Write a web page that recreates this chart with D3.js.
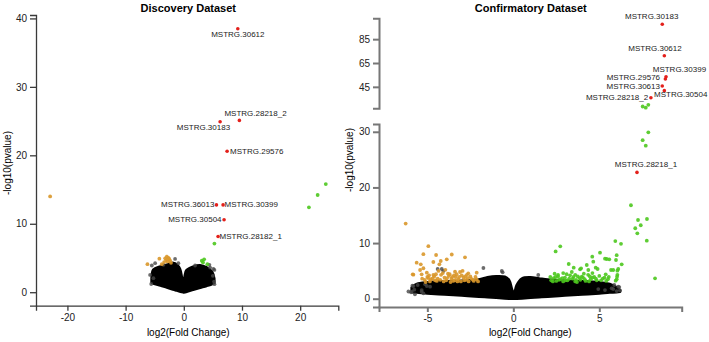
<!DOCTYPE html>
<html>
<head>
<meta charset="utf-8">
<script src="https://cdn.jsdelivr.net/npm/d3@7"></script>
<style>
  body { margin: 0; background: #fff; }
  svg { font-family: "Liberation Sans", Arial, Helvetica, sans-serif; }
  .axis text { font-size: 10px; fill: #222; }
  .disc .axis path, .disc .axis line { stroke: #3a3a3a; stroke-width: 1.3; }
  .conf .axis path, .conf .axis line { stroke: #777; stroke-width: 2; }
  .lbl { font-size: 8px; fill: #222; }
</style>
</head>
<body>
<svg id="chart" width="709" height="342"></svg>
<script>
// ---------------- Discovery dataset ----------------
var discNames = ["MSTRG.30612", "MSTRG.28218_2", "MSTRG.30183", "MSTRG.29576",
                 "MSTRG.36013", "MSTRG.30399", "MSTRG.30504", "MSTRG.28182_1"];
var discSigFC = [9.28, 9.55, 6.24, 7.44, 5.61, 6.75, 6.92, 5.89];
var discSigP  = [38.5, 25.1, 24.9, 20.6, 12.76, 12.76, 10.59, 8.14];

var discUpFC = [24.4, 23.0, 21.5, 5.26, 3.09, 3.49, 4.05, 3.3];
var discUpP  = [15.8, 14.2, 12.4, 7.1, 4.6, 4.8, 4.1, 4.35];

var discDownFC = [-22.97, -6.25, -4.2, -2.92, -2.64, -3.04, -2.35, -3.38, -3.78, -2.8, -2.5, -3.2, -2.2];
var discDownP  = [14.0, 4.1, 4.9, 5.2, 5.0, 4.7, 4.6, 4.4, 4.1, 4.5, 4.85, 4.95, 4.3];

var discNsFC = [-4.93, -5.5, -3.5, -1.5, -0.93, 1.94, 4.52, 5.09, 4.4, -5.79, -5.22, 5.2, 5.26, 5.26, -5.6, 5.0];
var discNsP  = [4.24, 3.9, 4.0, 4.87, 4.24, 3.9, 3.6, 3.4, 4.0, 2.53, 2.05, 1.55, 3.26, 1.17, 1.2, 2.4];

// outline of the dense non-significant cloud
var discCloudFC = [-5.5, -5.2, -4.0, -2.9, -1.8, -1.2, -0.7, -0.35, -0.05, 0.2, 0.5, 1.6, 2.8, 3.9, 4.8, 5.2];
var discCloudHi = [2.0, 3.3, 3.75, 4.0, 4.25, 4.0, 3.4, 2.1, 1.0, 2.4, 3.2, 3.7, 3.9, 3.6, 3.0, 2.0];
var discCloudLo = [1.45, 1.3, 1.0, 0.7, 0.42, 0.27, 0.15, 0.07, 0.0, 0.04, 0.1, 0.38, 0.68, 0.95, 1.2, 1.35];

var discXTicks = [-20, -10, 0, 10, 20];
var discYTicks = [0, 10, 20, 30, 40];

// ---------------- Confirmatory dataset ----------------
var confNames = ["MSTRG.30183", "MSTRG.30612", "MSTRG.30399", "MSTRG.29576",
                 "MSTRG.30613", "MSTRG.30504", "MSTRG.28218_2", "MSTRG.28218_1"];
var confSigFC = [8.66, 8.78, 8.88, 8.84, 8.66, 8.78, 8.0, 7.19];
var confSigP  = [97.5, 71.1, 53.5, 51.6, 45.7, 41.8, 35.9, 22.7];

var confUpFC = [7.85, 7.52, 7.7, 6.84, 7.25, 7.77, 7.41, 7.09, 7.21, 7.76, 8.24,
                2.46, 2.73, 3.22, 3.88, 4.59, 5.04, 5.43, 5.58, 5.93, 6.26, 6.01, 4.65, 6.3,
                4.27, 5.68, 6.05, 6.05, 6.01, 5.97, 3.51, 3.94, 4.9, 4.36, 4.79, 5.81, 6.1,
                3.98, 6.03, 5.37, 5.95, 5.33,
                2.2, 2.35, 2.5, 2.6, 2.75, 2.9, 3.0, 3.15, 3.3, 3.45, 3.6, 3.75, 3.9, 4.05,
                4.2, 4.35, 4.5, 4.7, 4.85, 5.0, 5.2, 5.4, 5.55, 2.4, 2.9, 3.4, 4.1, 4.6, 2.15, 3.7,
                2.3, 2.45, 2.65, 2.85, 3.05, 3.25, 3.5, 3.65, 3.85, 4.15, 4.4, 4.6, 4.8, 5.1,
                5.3, 5.5, 2.6, 3.1, 3.6, 4.45];
var confUpP  = [29.9, 28.5, 27.5, 16.8, 14.15, 14.33, 13.2, 12.66, 11.76, 10.43, 3.67,
                8.5, 9.42, 6.24, 5.28, 7.55, 8.28, 7.14, 7.08, 10.35, 9.87, 7.83, 6.66, 6.18,
                6.06, 5.16, 5.04, 4.3, 3.48, 6.96, 5.58, 5.46, 5.34, 5.16, 5.58, 5.16, 5.34,
                3.96, 3.96, 4.39, 3.24, 7.19,
                3.3, 3.7, 3.2, 4.0, 3.5, 3.1, 3.8, 3.3, 4.2, 3.6, 3.1, 4.0, 3.4, 3.8,
                3.2, 4.3, 3.5, 3.9, 3.3, 4.1, 3.6, 3.2, 3.9, 4.5, 4.6, 4.8, 4.5, 4.6, 3.9, 3.0,
                3.1, 3.9, 3.4, 3.7, 3.3, 3.6, 3.9, 3.4, 3.7, 3.5, 3.1, 3.8, 3.6, 3.3,
                3.8, 3.5, 4.3, 4.4, 4.3, 4.0];

var confDownFC = [-6.26, -4.94, -5.23, -4.49, -3.58, -2.81, -3.87, -4.22, -4.65, -5.62, -5.38, -4.3,
                  -5.42, -5.85, -5.03, -3.39, -2.62, -2.13, -5.33, -4.65, -5.23, -5.81,
                  -5.0, -4.8, -4.6, -4.4, -4.2, -4.0, -3.9, -3.75, -3.6, -3.5, -3.35, -3.2,
                  -3.05, -2.9, -2.75, -2.6, -2.45, -2.3, -2.15, -2.05, -3.8, -4.1, -3.0, -4.45,
                  -3.3, -2.8, -5.15, -4.9, -3.65, -2.5, -5.3, -3.1, -4.35, -3.95, -2.95,
                  -4.85, -4.7, -4.55, -4.25, -4.05, -3.85, -3.55, -3.4, -3.15, -2.85, -2.65,
                  -2.35, -2.2, -3.7, -4.5, -3.45, -2.7, -5.1, -4.95, -3.25];
var confDownP  = [13.5, 9.45, 8.0, 7.86, 7.95, 7.44, 7.08, 6.78, 6.6, 6.47, 6.18, 6.18,
                  5.16, 4.39, 4.68, 4.86, 4.57, 4.68, 4.39, 4.26, 5.47, 4.32,
                  3.9, 3.5, 4.0, 3.6, 4.3, 3.8, 3.3, 4.1, 3.6, 3.2, 3.9, 3.5,
                  3.1, 3.8, 3.4, 3.1, 3.6, 3.2, 3.5, 3.1, 4.5, 4.6, 4.2, 3.2,
                  4.4, 4.0, 3.4, 4.2, 3.0, 4.0, 3.6, 4.8, 5.0, 5.2, 5.0,
                  3.1, 3.6, 3.3, 3.4, 3.1, 3.7, 3.9, 3.3, 3.9, 3.3, 3.7,
                  3.4, 3.9, 4.4, 4.4, 4.2, 4.3, 3.0, 3.7, 3.1];

var confNsFC = [-5.87, -5.76, -5.56, -5.33, -5.95, -5.13, -4.84, -4.4, -4.16, -4.07, -5.72, -5.23,
                -5.81, -5.9, -5.33, -5.03, -1.74, -0.67, -0.62, 1.45,
                4.94, 5.33, 5.81, 6.01, 6.1, 5.87, 5.72, 6.16, 6.2, -6.1];
var confNsP  = [2.34, 1.62, 2.46, 1.56, 1.15, 2.59, 2.16, 5.34, 5.34, 4.98, 0.79, 0.97,
                2.28, 1.26, 1.26, 2.28, 5.52, 4.98, 4.75, 4.26,
                1.74, 1.56, 1.74, 1.38, 2.16, 2.46, 1.87, 2.1, 1.5, 1.3];

var confCloudFC = [-5.9, -5.6, -5.0, -4.0, -3.0, -2.0, -1.5, -1.0, -0.5, -0.25, -0.08, 0.05, 0.2,
                   0.5, 1.0, 1.5, 2.0, 3.0, 4.0, 5.0, 5.6, 6.0, 6.2];
var confCloudHi = [2.0, 2.6, 2.9, 3.1, 3.2, 3.4, 3.8, 4.0, 3.9, 3.3, 1.6, 0.8, 2.4,
                   3.6, 3.8, 3.6, 3.4, 3.2, 3.1, 2.9, 2.6, 2.0, 1.5];
var confCloudLo = [1.2, 1.15, 1.0, 0.8, 0.6, 0.4, 0.3, 0.2, 0.1, 0.05, 0.02, 0.02, 0.05,
                   0.1, 0.2, 0.3, 0.4, 0.6, 0.8, 1.0, 1.15, 1.2, 1.3];

var confXTicks = [-5, 0, 5];
var confYTicksLow = [0, 10, 20, 30];
var confYTicksHigh = [45, 65, 85];

// label placement: [anchor, dx, dy] in pixels from the point
var discLabelPos = [["middle", 0, 8.3], ["start", -15, -4.6], ["end", 10, 8.3], ["start", 3, 2.5],
                    ["end", -2, 2.5], ["start", 1.5, 2.5], ["end", -2.5, 2.5], ["start", 1.5, 2.5]];
var confLabelPos = [["middle", -10.6, -5.3], ["middle", -9.3, -5], ["start", -13.3, -5], ["end", -5.3, 1.2],
                    ["end", -2.3, 2.6], ["start", -10.3, 6.6], ["end", -2.7, 2.3], ["middle", 9, -5.4]];

var RED = "#e3201b", GREEN = "#4cc81e", ORANGE = "#d9972a", GREY = "#474747";

function zip(xs, ys) {
  return xs.map(function(x, i) { return {x: x, y: ys[i]}; });
}

var svg = d3.select("#chart");

// draws a set of points into one y-segment, skipping those outside it
function dots(g, x, y, data, color, r, op) {
  var dom = y.domain();
  g.selectAll(null)
    .data(data.filter(function(d) { return d.y >= dom[0] && d.y <= dom[1]; }))
    .enter().append("circle")
      .attr("cx", function(d) { return x(d.x); })
      .attr("cy", function(d) { return y(d.y); })
      .attr("r", r)
      .attr("fill", color)
      .attr("fill-opacity", op);
}

function cloud(g, x, y, xs, hi, lo) {
  var area = d3.area()
      .x(function(d) { return x(d.x); })
      .y0(function(d) { return y(d.lo); })
      .y1(function(d) { return y(d.hi); })
      .curve(d3.curveCatmullRom);
  g.append("path")
    .datum(xs.map(function(v, i) { return {x: v, hi: hi[i], lo: lo[i]}; }))
    .attr("d", area)
    .attr("fill", "#000")
    .attr("stroke", "#000")
    .attr("stroke-width", 3)
    .attr("stroke-linejoin", "round");
}

function labels(g, x, y, names, fc, p, pos) {
  g.selectAll(null)
    .data(names)
    .enter().append("text")
      .attr("class", "lbl")
      .attr("x", function(d, i) { return x(fc[i]) + pos[i][1]; })
      .attr("y", function(d, i) { return y(p[i]) + pos[i][2]; })
      .attr("text-anchor", function(d, i) { return pos[i][0]; })
      .text(function(d) { return d; });
}

function hyphen(d) { return String(d); }

// ---------------- left panel ----------------
var gL = svg.append("g").attr("class", "disc");
var xL = d3.scaleLinear().domain([-25.4, 26.55]).range([36, 338.3]);
var yL = d3.scaleLinear().domain([-1.97, 40.5]).range([305.7, 15]);

gL.append("g").attr("class", "axis")
  .attr("transform", "translate(0,305.7)")
  .call(d3.axisBottom(xL).tickValues(discXTicks).tickFormat(hyphen).tickSizeOuter(0).tickSize(5));
gL.append("g").attr("class", "axis")
  .attr("transform", "translate(36,0)")
  .call(d3.axisLeft(yL).tickValues(discYTicks).tickFormat(hyphen).tickSizeOuter(0).tickSize(6));

cloud(gL, xL, yL, discCloudFC, discCloudHi, discCloudLo);
dots(gL, xL, yL, zip(discNsFC, discNsP), GREY, 1.9, 0.8);
dots(gL, xL, yL, zip(discDownFC, discDownP), ORANGE, 1.9, 0.9);
dots(gL, xL, yL, zip(discUpFC, discUpP), GREEN, 1.9, 0.9);
dots(gL, xL, yL, zip(discSigFC, discSigP), RED, 1.8, 1);
labels(gL, xL, yL, discNames, discSigFC, discSigP, discLabelPos);

gL.append("text").attr("x", 188.3).attr("y", 12).attr("text-anchor", "middle")
  .style("font-size", "11px").style("font-weight", "bold").text("Discovery Dataset");
gL.append("text").attr("x", 188.3).attr("y", 336).attr("text-anchor", "middle")
  .style("font-size", "10px").text("log2(Fold Change)");
gL.append("text").attr("transform", "translate(11,163) rotate(-90)").attr("text-anchor", "middle")
  .style("font-size", "10px").text("-log10(pvalue)");

// ---------------- right panel (broken y axis) ----------------
var gR = svg.append("g").attr("class", "conf");
var xR = d3.scaleLinear().domain([-7.81, 9.79]).range([379, 681.7]);
var yLow = d3.scaleLinear().domain([-1.49, 31.4]).range([307, 124]);
var yHigh = d3.scaleLinear().domain([27, 102.5]).range([108.3, 18.3]);

gR.append("g").attr("class", "axis")
  .attr("transform", "translate(0,307)")
  .call(d3.axisBottom(xR).tickValues(confXTicks).tickFormat(hyphen).tickSizeOuter(0).tickSize(5));
gR.append("g").attr("class", "axis")
  .attr("transform", "translate(379,0)")
  .call(d3.axisLeft(yLow).tickValues(confYTicksLow).tickFormat(hyphen).tickSizeOuter(0).tickSize(6));
gR.append("g").attr("class", "axis")
  .attr("transform", "translate(379,0)")
  .call(d3.axisLeft(yHigh).tickValues(confYTicksHigh).tickFormat(hyphen).tickSizeOuter(0).tickSize(6));

cloud(gR, xR, yLow, confCloudFC, confCloudHi, confCloudLo);
[yLow, yHigh].forEach(function(y) {
  dots(gR, xR, y, zip(confNsFC, confNsP), GREY, 1.9, 0.8);
  dots(gR, xR, y, zip(confDownFC, confDownP), ORANGE, 1.9, 0.9);
  dots(gR, xR, y, zip(confUpFC, confUpP), GREEN, 1.9, 0.9);
  dots(gR, xR, y, zip(confSigFC, confSigP), RED, 1.8, 1);
});
labels(gR, xR, yHigh, confNames.slice(0, 7), confSigFC, confSigP, confLabelPos);
labels(gR, xR, yLow, confNames.slice(7), confSigFC.slice(7), confSigP.slice(7), confLabelPos.slice(7));

gR.append("text").attr("x", 530.8).attr("y", 12).attr("text-anchor", "middle")
  .style("font-size", "11px").style("font-weight", "bold").text("Confirmatory Dataset");
gR.append("text").attr("x", 530.3).attr("y", 336).attr("text-anchor", "middle")
  .style("font-size", "10px").text("log2(Fold Change)");
gR.append("text").attr("transform", "translate(353,160) rotate(-90)").attr("text-anchor", "middle")
  .style("font-size", "10px").text("-log10(pvalue)");
</script>
</body>
</html>
